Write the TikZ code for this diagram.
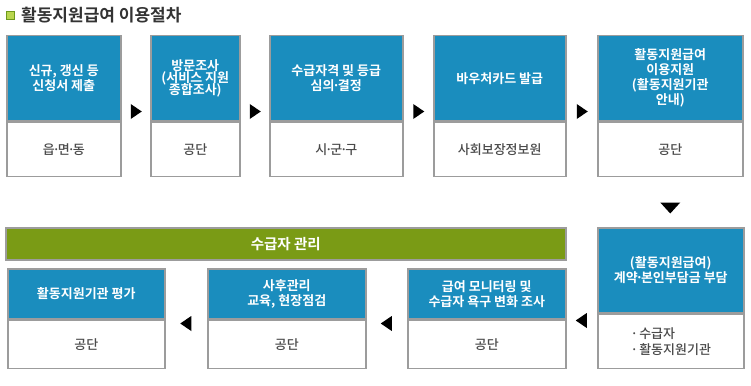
\documentclass[tikz,border=0pt]{standalone}
\usepackage{fontspec}
\newfontfamily\kr{Noto Sans CJK KR}[BoldFont={Noto Sans CJK KR Bold}]
\newfontfamily\krm{Noto Sans CJK KR Medium}
\usetikzlibrary{positioning,calc}
\definecolor{stepblue}{HTML}{1A8DBE}
\definecolor{mgmtgreen}{HTML}{7A9B15}
\definecolor{boxline}{HTML}{9C9C9C}
\definecolor{subgray}{HTML}{4A4A4A}
\definecolor{icongreen}{HTML}{6E9A1C}
\definecolor{iconlight}{HTML}{B9D64E}
\newcommand\md{\kern-0.17em·\kern-0.17em}

\begin{document}
\begin{tikzpicture}[x=1pt,y=-1pt,
 hd/.style={draw=boxline, line width=1.5pt, fill=stepblue, text=white, font=\kr\bfseries\fontsize{13}{15}\selectfont, align=center, inner sep=0pt, anchor=north west},
 sub/.style={draw=boxline, line width=1.5pt, fill=white, text=subgray, font=\krm\fontsize{13}{16}\selectfont, align=center, inner sep=0pt},
 bar/.style={draw=boxline, line width=1.5pt, fill=mgmtgreen, text=white, font=\kr\bfseries\fontsize{14.5}{16}\selectfont, inner sep=0pt, anchor=north west},
 tri/.style={fill=black}]
\useasboundingbox (0,0) rectangle (751,385);
% title
\node[draw=icongreen, line width=1.5pt, fill=iconlight, minimum size=8pt, inner sep=0pt] (ico) at (10.5,15.5) {};
\node[anchor=west, text=black!80, font=\kr\bfseries\fontsize{17}{19}\selectfont, inner sep=0pt] (title) at (21,15) {활동지원급여 이용절차};
% top row
\node[hd, minimum width=114pt, minimum height=85pt] (h1) at (6,35) {신규, 갱신 등\\신청서 제출};
\node[sub, minimum width=114pt, minimum height=54pt, below=0pt of h1] (s1) {읍\md 면\md 동};
\node[hd, minimum width=89pt, minimum height=85pt] (h2) at (150,35) {방문조사\\[-3pt](서비스 지원\\[-3pt]종합조사)};
\node[sub, minimum width=89pt, minimum height=54pt, below=0pt of h2] (s2) {공단};
\node[hd, minimum width=133pt, minimum height=85pt] (h3) at (269,35) {수급자격 및 등급\\심의\md 결정};
\node[sub, minimum width=133pt, minimum height=54pt, below=0pt of h3] (s3) {시\md 군\md 구};
\node[hd, minimum width=132pt, minimum height=85pt] (h4) at (433,35) {바우처카드 발급};
\node[sub, minimum width=132pt, minimum height=54pt, below=0pt of h4] (s4) {사회보장정보원};
\node[hd, minimum width=145pt, minimum height=85pt] (h5) at (597,35) {활동지원급여\\이용지원\\(활동지원기관\\안내)};
\node[sub, minimum width=145pt, minimum height=54pt, below=0pt of h5] (s5) {공단};
% top arrows
\foreach \a/\b in {1/2, 2/3, 3/4, 4/5} {
  \coordinate (r\a) at ($(h\a.south east)!0.5!(h\b.south west)+(0,-10)$);
  \fill[tri] (r\a) ++(-5,-7.5) -- ++(11,7.5) -- ++(-11,7.5) -- cycle;
}
\coordinate (d5) at ($(s5.south)!0.62!(s5.south|-227,227)$);
\fill[tri] (d5) ++(-10,-5.5) -- ++(20,0) -- ++(-10,11) -- cycle;
% bottom row
\node[bar, minimum width=560pt, minimum height=32pt] (mgmt) at (5,227) {수급자 관리};
\node[hd, minimum width=146pt, minimum height=85pt] (h6) at (597,227) {(활동지원급여)\\계약\md 본인부담금 부담};
\node[sub, minimum width=146pt, minimum height=54pt, below=0pt of h6, align=left] (s6) {·\kern0.1em 수급자\\·\kern0.1em 활동지원기관};
\node[hd, minimum width=158pt, minimum height=50pt] (h7) at (407,268) {급여 모니터링 및\\수급자 욕구 변화 조사};
\node[sub, minimum width=158pt, minimum height=48pt, below=0pt of h7] (s7) {공단};
\node[hd, minimum width=158pt, minimum height=50pt] (h8) at (207,268) {사후관리\\교육, 현장점검};
\node[sub, minimum width=158pt, minimum height=48pt, below=0pt of h8] (s8) {공단};
\node[hd, minimum width=157pt, minimum height=50pt] (h9) at (7,268) {활동지원기관 평가};
\node[sub, minimum width=157pt, minimum height=48pt, below=0pt of h9] (s9) {공단};
% bottom arrows
\foreach \a/\b in {6/7, 7/8, 8/9} {
  \coordinate (l\a) at ($(s\a.north west)!0.5!(s\b.north east)+(0,4)$);
  \fill[tri] (l\a) ++(5,-7.5) -- ++(-11,7.5) -- ++(11,7.5) -- cycle;
}
\end{tikzpicture}
\end{document}
